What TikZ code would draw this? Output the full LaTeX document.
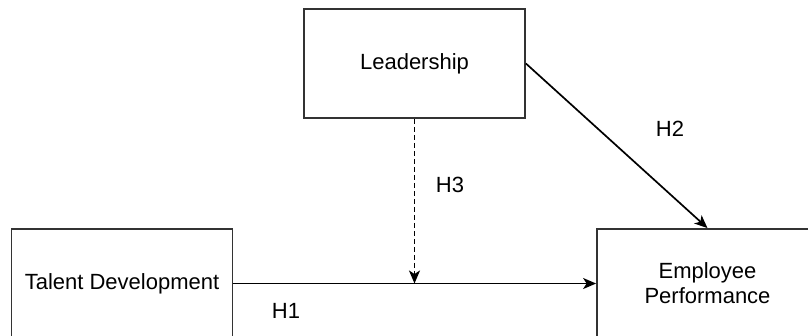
\documentclass[tikz,border=0pt]{standalone}
\usepackage{fontspec}
\setmainfont{Liberation Sans}
\usetikzlibrary{arrows.meta}
\begin{document}
\begin{tikzpicture}[x=1pt,y=-1pt,
  box/.style={draw=black!80, line width=1.8pt, fill=white, minimum width=221pt, minimum height=109pt, inner sep=0pt, align=center, font=\fontsize{22}{25}\selectfont},
  lbl/.style={font=\fontsize{22}{25}\selectfont, inner sep=0pt},
  conn/.style={line width=1.7pt, draw=black, -{Stealth[length=13pt,width=11pt,inset=3.5pt]}}]
\path[use as bounding box, clip] (0,0) rectangle (808,335);
\node[box] (lead) at (414.5,63.5) {Leadership};
\node[box] (talent) at (122,283.5) {Talent Development};
\node[box] (emp) at (707.5,283.5) {Employee\\Performance};
\coordinate (mid) at (414.5,283.5);
\draw[conn] (talent.east) -- (emp.west);
\draw[conn, dash pattern=on 5pt off 3pt] (lead.south) -- (mid);
\draw[conn] (lead.east) -- (emp.north);
\node[lbl] (h1) at (286,311) {H1};
\node[lbl] (h2) at (670,129) {H2};
\node[lbl] (h3) at (450,185) {H3};
\end{tikzpicture}
\end{document}
